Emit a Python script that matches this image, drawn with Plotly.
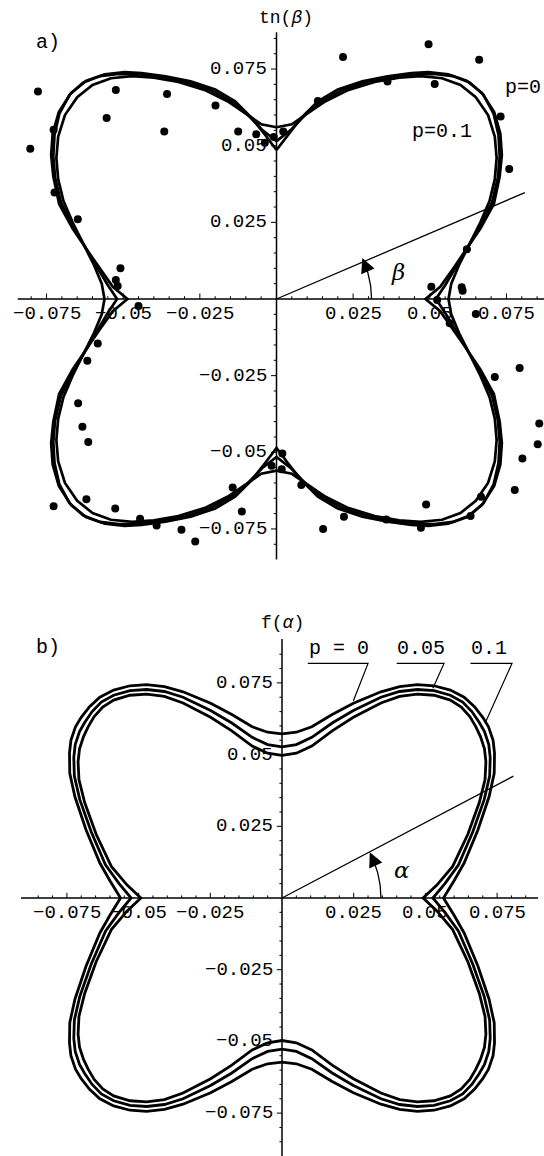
import numpy as np
import plotly.graph_objects as go

# ---------------- panel a: tn(beta) ----------------
# first-quadrant outline of each curve, from the vertical axis to the horizontal axis
a_p00_x = [0.0, 0.0037, 0.0080, 0.0135, 0.0200, 0.0280, 0.0362, 0.0440, 0.0495, 0.0560, 0.0620,
           0.0670, 0.0710, 0.0730, 0.0735, 0.0728, 0.0709, 0.0665, 0.0618, 0.0570, 0.0534, 0.0486]
a_p00_y = [0.0486, 0.0535, 0.0590, 0.0645, 0.0683, 0.0710, 0.0726, 0.0737, 0.0740, 0.0733, 0.0712,
           0.0672, 0.0610, 0.0540, 0.0470, 0.0400, 0.0310, 0.0230, 0.0160, 0.0090, 0.0040, 0.0]
a_p05_x = [0.0, 0.0045, 0.0090, 0.0145, 0.0215, 0.0300, 0.0380, 0.0455, 0.0515, 0.0575, 0.0630,
           0.0675, 0.0708, 0.0724, 0.0728, 0.0722, 0.0703, 0.0665, 0.0625, 0.0583, 0.0550, 0.0520]
a_p05_y = [0.0515, 0.0550, 0.0597, 0.0643, 0.0682, 0.0710, 0.0724, 0.0733, 0.0734, 0.0727, 0.0706,
           0.0666, 0.0605, 0.0535, 0.0465, 0.0395, 0.0315, 0.0240, 0.0172, 0.0100, 0.0045, 0.0]
a_p10_x = [0.0, 0.0050, 0.0100, 0.0160, 0.0230, 0.0320, 0.0400, 0.0470, 0.0540, 0.0600, 0.0650,
           0.0690, 0.0712, 0.0718, 0.0712, 0.0695, 0.0665, 0.0630, 0.0595, 0.0570, 0.0561]
a_p10_y = [0.0560, 0.0570, 0.0605, 0.0645, 0.0680, 0.0708, 0.0722, 0.0727, 0.0720, 0.0698, 0.0658,
           0.0600, 0.0530, 0.0460, 0.0390, 0.0320, 0.0250, 0.0180, 0.0110, 0.0050, 0.0]

# measured points
meas_x = [-0.0778, -0.0524, -0.0357, -0.0554, -0.0366, -0.0803, -0.0199, -0.0125, -0.0066, -0.0038,
          -0.0009, 0.0022, 0.0135, 0.0217, 0.0362, 0.0496, 0.0516, 0.0661, 0.0731, 0.0759,
          -0.0727, -0.0724, -0.0648, -0.0509, -0.0524, -0.0518, 0.0621, 0.0505, 0.0604,
          -0.0450, -0.0583, -0.0617, -0.0647, -0.0633, -0.0614, -0.0727, -0.0620, -0.0526, -0.0445,
          -0.0391, -0.0310, -0.0265, -0.0143, -0.0113, -0.0016, 0.0017, 0.0019, 0.0081, 0.0152,
          0.0220, 0.0358, 0.0471, 0.0488, 0.0633, 0.0667, 0.0777, 0.0802, 0.0852, 0.0857,
          0.0793, 0.0712, 0.0650, 0.0607, 0.0565, 0.0524]
meas_y = [0.0677, 0.0682, 0.0669, 0.0590, 0.0546, 0.0490, 0.0631, 0.0546, 0.0537, 0.0510,
          0.0528, 0.0546, 0.0646, 0.0789, 0.0709, 0.0831, 0.0701, 0.0780, 0.0595, 0.0424,
          0.0552, 0.0347, 0.0260, 0.0100, 0.0062, 0.0042, 0.0162, 0.0040, 0.0038,
          -0.0023, -0.0145, -0.0201, -0.0340, -0.0417, -0.0466, -0.0676, -0.0653, -0.0683, -0.0717,
          -0.0739, -0.0753, -0.0791, -0.0615, -0.0693, -0.0544, -0.0555, -0.0504, -0.0607, -0.0750,
          -0.0710, -0.0719, -0.0746, -0.0670, -0.0708, -0.0645, -0.0623, -0.0520, -0.0474, -0.0406,
          -0.0225, -0.0254, -0.0049, 0.0027, -0.0079, -0.0003]

# ---------------- panel b: f(alpha) ----------------
b_out_x = [0.0, 0.0050, 0.0104, 0.0175, 0.0249, 0.0345, 0.0410, 0.0472, 0.0530, 0.0587, 0.0635,
           0.0671, 0.0700, 0.0720, 0.0736, 0.0741, 0.0740, 0.0722, 0.0683, 0.0635, 0.0600, 0.0563]
b_out_y = [0.0572, 0.0578, 0.0597, 0.0640, 0.0679, 0.0719, 0.0737, 0.0744, 0.0740, 0.0725, 0.0700,
           0.0667, 0.0630, 0.0597, 0.0550, 0.0505, 0.0435, 0.0353, 0.0237, 0.0122, 0.0060, 0.0]
b_mid_x = [0.0, 0.0050, 0.0104, 0.0175, 0.0249, 0.0345, 0.0410, 0.0472, 0.0530, 0.0587, 0.0630,
           0.0662, 0.0688, 0.0706, 0.0721, 0.0726, 0.0724, 0.0705, 0.0665, 0.0615, 0.0568, 0.0526]
b_mid_y = [0.0527, 0.0535, 0.0560, 0.0610, 0.0654, 0.0700, 0.0720, 0.0727, 0.0723, 0.0707, 0.0683,
           0.0650, 0.0612, 0.0580, 0.0535, 0.0490, 0.0425, 0.0343, 0.0230, 0.0115, 0.0050, 0.0]
b_inn_x = [0.0, 0.0050, 0.0104, 0.0175, 0.0249, 0.0345, 0.0410, 0.0472, 0.0530, 0.0587, 0.0625,
           0.0655, 0.0676, 0.0692, 0.0706, 0.0711, 0.0708, 0.0688, 0.0648, 0.0595, 0.0540, 0.0492]
b_inn_y = [0.0497, 0.0505, 0.0530, 0.0583, 0.0630, 0.0680, 0.0703, 0.0711, 0.0707, 0.0690, 0.0666,
           0.0633, 0.0597, 0.0563, 0.0520, 0.0475, 0.0413, 0.0333, 0.0222, 0.0110, 0.0045, 0.0]

tick_vals = [-0.075, -0.05, -0.025, 0.025, 0.05, 0.075]
tick_text = ["\u22120.075", "\u22120.05", "\u22120.025", "0.025", "0.05", "0.075"]

MONO = "Liberation Mono"
W, H = 544, 1156

fig = go.Figure()


def closed_outline(qx, qy):
    """Mirror a first-quadrant arc into the full closed curve."""
    qx, qy = np.asarray(qx), np.asarray(qy)
    xs = np.concatenate([qx, qx[::-1], -qx, -qx[::-1]])
    ys = np.concatenate([qy, -qy[::-1], -qy, qy[::-1]])
    return xs, ys


def add_axes(xa, ya, xlo, xhi, ylo, yhi, lab_dx, lab_dy, major, minor):
    # axis lines crossing at the origin
    fig.add_trace(go.Scatter(x=[xlo, xhi, None, 0, 0], y=[0, 0, None, ylo, yhi], mode="lines",
                             line=dict(color="black", width=1.5), xaxis=xa, yaxis=ya,
                             hoverinfo="skip", showlegend=False))
    # tick marks: long at the labelled values, short every 0.005
    tx, ty = [], []
    for v in np.arange(-0.085, 0.0851, 0.005):
        v = round(v, 3)
        if abs(v) < 1e-9:
            continue
        ln = major if abs(round(v / 0.025) * 0.025 - v) < 1e-9 else minor
        if xlo < v < xhi:
            tx += [v, v, None]
            ty += [0, ln, None]
        if ylo < v < yhi:
            tx += [0, -ln, None]
            ty += [v, v, None]
    fig.add_trace(go.Scatter(x=tx, y=ty, mode="lines", line=dict(color="black", width=1),
                             xaxis=xa, yaxis=ya, hoverinfo="skip", showlegend=False))
    # tick labels
    for v, t in zip(tick_vals, tick_text):
        fig.add_annotation(x=v, y=lab_dy, xref=xa, yref=ya, text=t, showarrow=False,
                           xanchor="center", yanchor="middle",
                           font=dict(family=MONO, size=19, color="black"))
        fig.add_annotation(x=lab_dx, y=v, xref=xa, yref=ya, text=t, showarrow=False,
                           xanchor="right", yanchor="middle",
                           font=dict(family=MONO, size=19, color="black"))


def angle_marker(xa, ya, end_x, end_y, rad, a_end, label, lx, ly):
    fig.add_trace(go.Scatter(x=[0, end_x], y=[0, end_y], mode="lines",
                             line=dict(color="black", width=1.3), xaxis=xa, yaxis=ya,
                             hoverinfo="skip", showlegend=False))
    ang = np.radians(np.linspace(0, a_end, 30))
    fig.add_trace(go.Scatter(x=rad * np.cos(ang), y=rad * np.sin(ang), mode="lines",
                             line=dict(color="black", width=1.3), xaxis=xa, yaxis=ya,
                             hoverinfo="skip", showlegend=False))
    tip = np.radians(a_end + 5.5)
    fig.add_annotation(x=rad * np.cos(tip), y=rad * np.sin(tip),
                       ax=rad * np.cos(ang[-1]), ay=rad * np.sin(ang[-1]),
                       xref=xa, yref=ya, axref=xa, ayref=ya, text="", showarrow=True,
                       arrowhead=2, arrowsize=1.6, arrowwidth=1.8, arrowcolor="black")
    fig.add_annotation(x=lx, y=ly, xref=xa, yref=ya, text=label, showarrow=False,
                       font=dict(family="DejaVu Serif", size=23, color="black"))


# ---- panel a ----
for qx, qy in [(a_p00_x, a_p00_y), (a_p05_x, a_p05_y), (a_p10_x, a_p10_y)]:
    xs, ys = closed_outline(qx, qy)
    fig.add_trace(go.Scatter(x=xs, y=ys, mode="lines", line=dict(color="black", width=2.7),
                             xaxis="x", yaxis="y", hoverinfo="skip", showlegend=False))
fig.add_trace(go.Scatter(x=meas_x, y=meas_y, mode="markers",
                         marker=dict(color="black", size=8), xaxis="x", yaxis="y",
                         hoverinfo="skip", showlegend=False))
add_axes("x", "y", -0.0844, 0.0873, -0.085, 0.087, -0.0026, -0.0049, 0.0018, 0.0009)
angle_marker("x", "y", 0.081, 0.0347, 0.031, 20, "<i>β</i>", 0.0395, 0.0088)
fig.add_annotation(x=-0.0745, y=0.0835, xref="x", yref="y", text="a)", showarrow=False,
                   font=dict(family=MONO, size=20, color="black"))
fig.add_annotation(x=0.0030, y=0.0915, xref="x", yref="y", text="tn(<i>β</i>)", showarrow=False,
                   font=dict(family=MONO, size=18, color="black"))
fig.add_annotation(x=0.0805, y=0.0690, xref="x", yref="y", text="p=0", showarrow=False,
                   font=dict(family=MONO, size=20, color="black"))
fig.add_annotation(x=0.0540, y=0.0545, xref="x", yref="y", text="p=0.1", showarrow=False,
                   font=dict(family=MONO, size=20, color="black"))

# ---- panel b ----
for qx, qy in [(b_out_x, b_out_y), (b_mid_x, b_mid_y), (b_inn_x, b_inn_y)]:
    xs, ys = closed_outline(qx, qy)
    fig.add_trace(go.Scatter(x=xs, y=ys, mode="lines", line=dict(color="black", width=2.8),
                             xaxis="x2", yaxis="y2", hoverinfo="skip", showlegend=False))
add_axes("x2", "y2", -0.091, 0.0893, -0.095, 0.0903, -0.0024, -0.0051, 0.0018, 0.0009)
angle_marker("x2", "y2", 0.0807, 0.0425, 0.0345, 22, "<i>α</i>", 0.0418, 0.0098)
fig.add_annotation(x=-0.0815, y=0.0875, xref="x2", yref="y2", text="b)", showarrow=False,
                   font=dict(family=MONO, size=20, color="black"))
fig.add_annotation(x=0.0000, y=0.0960, xref="x2", yref="y2", text="f(<i>α</i>)", showarrow=False,
                   font=dict(family=MONO, size=18, color="black"))

# leader labels for the three curves
leaders = [("p = 0", 0.0197, 0.0090, 0.0300, 0.0249, 0.0688),
           ("0.05", 0.0484, 0.0400, 0.0565, 0.0526, 0.0731),
           ("0.1", 0.0722, 0.0657, 0.0802, 0.0708, 0.0609)]
for txt, cx, u0, u1, ex, ey in leaders:
    fig.add_annotation(x=cx, y=0.0822, xref="x2", yref="y2", text=txt, showarrow=False,
                       yanchor="bottom", font=dict(family=MONO, size=20, color="black"))
    fig.add_trace(go.Scatter(x=[u0, u1, ex], y=[0.0818, 0.0818, ey], mode="lines",
                             line=dict(color="black", width=1.2), xaxis="x2", yaxis="y2",
                             hoverinfo="skip", showlegend=False))

# axis frames: panel a in the upper half, panel b in the lower half, equal scales
ax_common = dict(visible=False, showgrid=False, zeroline=False)
fig.update_layout(
    width=W, height=H, margin=dict(l=0, r=0, t=0, b=0),
    paper_bgcolor="white", plot_bgcolor="white", showlegend=False,
    xaxis=dict(domain=[0, 1], range=[-276.5 / 3066, (W - 276.5) / 3066], **ax_common),
    yaxis=dict(domain=[0.5, 1], range=[(299 - 578) / 3066, 299 / 3066], **ax_common),
    xaxis2=dict(domain=[0, 1], range=[-282 / 2868, (W - 282) / 2868], anchor="y2", **ax_common),
    yaxis2=dict(domain=[0, 0.5], range=[(898 - 1156) / 2868, (898 - 578) / 2868], anchor="x2",
                **ax_common),
)

fig.write_html("out.html")
